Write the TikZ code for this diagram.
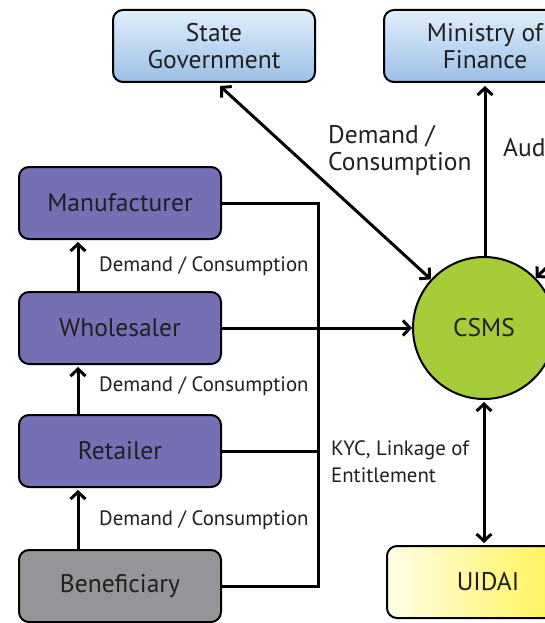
\documentclass[tikz,border=0pt]{standalone}
\usepackage{fontspec}
\setmainfont{PT Sans}
\usetikzlibrary{arrows.meta,positioning,calc}
\definecolor{purp}{HTML}{7570B3}
\definecolor{grayb}{HTML}{939598}
\definecolor{greenc}{HTML}{A6CC3A}
\definecolor{bluetop}{HTML}{E0EFFB}
\definecolor{bluebot}{HTML}{9CBEE8}
\definecolor{yellowlt}{HTML}{FFFDE6}
\definecolor{yellowdk}{HTML}{FFF03C}
\definecolor{txt}{HTML}{231F20}
\tikzset{
  box/.style={draw=black, line width=2pt, rounded corners=10pt, minimum width=202pt, minimum height=72pt, align=center, text=txt, font=\fontsize{25.5}{27}\selectfont, inner sep=0pt},
  purplebox/.style={box, fill=purp},
  bluebox/.style={box, top color=bluetop, bottom color=bluebot},
  conn/.style={line width=3pt, >={Straight Barb[length=7pt,width=15pt]}},
  lbl/.style={anchor=west, align=left, text=txt, inner sep=0pt},
  smalllbl/.style={lbl, font=\fontsize{20.8}{27}\selectfont},
  biglbl/.style={lbl, font=\fontsize{25.5}{27}\selectfont},
}
\begin{document}
\begin{tikzpicture}[x=1pt,y=-1pt]
\useasboundingbox (0,0) rectangle (545,623);
\fill[white] (0,0) rectangle (545,623);
\node[bluebox] (sg) at (214,46) {State\\Government};
\node[bluebox] (mof) at (485,46) {Ministry of\\Finance};
\node[purplebox] (man) at (120,203) {Manufacturer};
\node[purplebox] (who) at (120,328) {Wholesaler};
\node[purplebox] (ret) at (120,451) {Retailer};
\node[box, fill=grayb] (ben) at (120,586) {Beneficiary};
\node[draw=black, line width=2pt, circle, fill=greenc, minimum size=142pt, inner sep=0pt, text=txt, font=\fontsize{25.5}{27}\selectfont] (csms) at (484,328) {CSMS};
\node[box, shading angle=135, left color=yellowlt, right color=yellowdk] (uid) at (488,582) {UIDAI};
\coordinate (bus) at (318,203);
\coordinate (ext) at (625,190);
% connectors
\draw[conn,<->] ([xshift=6pt,yshift=-3pt]sg.south) -- (csms);
\draw[conn,->] (csms.north -| mof.south) -- ([yshift=-3pt]mof.south);
\draw[conn,->] (ext) -- (csms.44);
\draw[conn,->] (who.east) -- (csms);
\draw[conn,<->] ([yshift=-2pt]csms.south) -- ([yshift=2pt]csms.south |- uid.north);
\draw[conn] (man.east) -- (bus) |- (ben.east);
\draw[conn] (ret.east) -- (ret.east -| bus);
\draw[conn,->] ([xshift=-42pt]who.north) -- ([xshift=-42pt,yshift=-2pt]man.south);
\draw[conn,->] ([xshift=-42pt]ret.north) -- ([xshift=-42pt,yshift=-2pt]who.south);
\draw[conn,->] ([xshift=-42pt]ben.north) -- ([xshift=-42pt,yshift=-2pt]ret.south);
% labels
\node[biglbl] (l1) at (328,150) {Demand /\\Consumption};
\node[biglbl] (l2) at (503,148) {Aud};
\node[smalllbl] (l3) at (99,266) {Demand / Consumption};
\node[smalllbl] (l4) at (99,386) {Demand / Consumption};
\node[smalllbl] (l5) at (99,520) {Demand / Consumption};
\node[smalllbl] (l6) at (331,462) {KYC, Linkage of\\Entitlement};
\end{tikzpicture}
\end{document}
